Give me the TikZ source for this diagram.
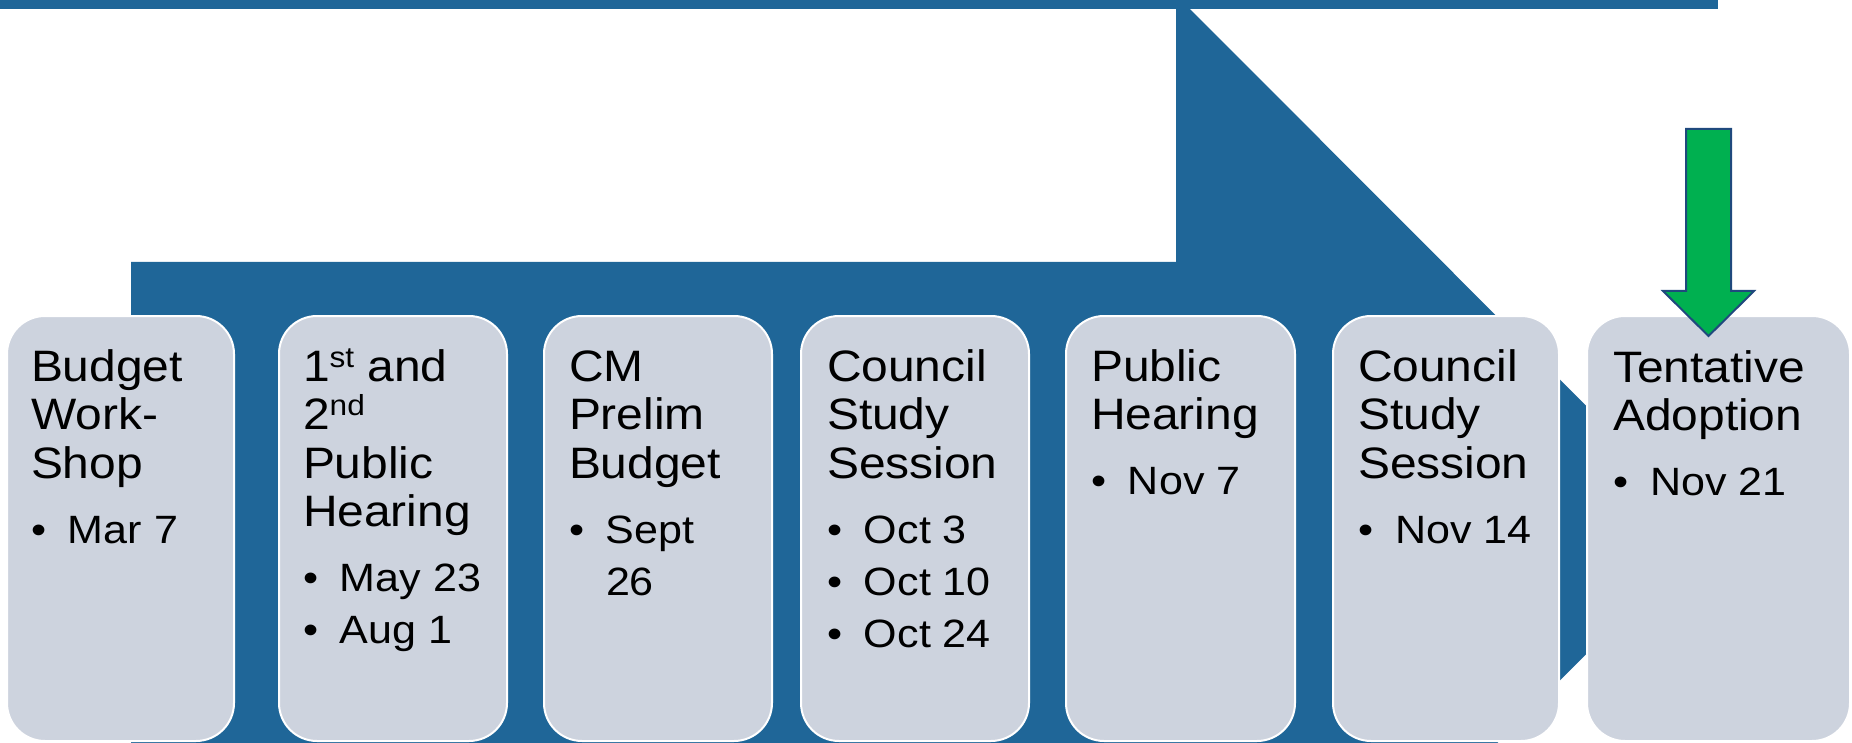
\documentclass[tikz,border=0pt]{standalone}
\usepackage{fontspec}
\setmainfont{Liberation Sans}[FakeStretch=1.09]
\usetikzlibrary{calc}
\definecolor{arrowblue}{RGB}{31,102,152}
\definecolor{cardfill}{RGB}{205,211,222}
\definecolor{okgreen}{RGB}{0,176,80}
\definecolor{navyline}{RGB}{31,73,125}
\newcommand\hdfont{\fontsize{44}{48.5}\selectfont}
\newcommand\btfont{\fontsize{39.5}{52}\selectfont}
\newcommand\hd[1]{\hbox{#1}}
\newcommand\bt[1]{\hbox{\makebox[37pt][l]{\textbullet}#1}}
\newcommand\btfirst[1]{\btfont\baselineskip=65pt\bt{#1}\baselineskip=52pt\relax}
\newcommand\btcont[1]{\hbox{\kern37pt #1}}
\newcommand\sups[1]{\raisebox{14pt}{\fontsize{29}{29}\selectfont #1}}
\newcommand\cardtext[1]{\vtop{\hdfont #1}}
\begin{document}
\begin{tikzpicture}[x=1pt,y=-1pt,
  card/.style={draw=white, line width=2pt, fill=cardfill, rounded corners=38pt,
    anchor=north west, inner sep=0pt, outer sep=0pt, minimum height=425pt},
  cardtxt/.style={anchor=base west, inner sep=0pt, outer sep=0pt, text=black},
  bigarrow/.style={fill=arrowblue},
  pointer/.style={fill=okgreen, draw=navyline, line width=2pt, line join=miter}]
\useasboundingbox (0,0) rectangle (1852,743);
\begin{scope}
\clip (0,0) rectangle (1852,743);
% big blue process arrow
\fill[bigarrow] (131,262) -- (1176,262) -- (1176,-5) -- (1710,530) -- (1176,1065)
  -- (1176,798) -- (131,798) -- cycle;
\fill[bigarrow] (0,0) rectangle (1718,9);
% cards
\node[card, minimum width=227pt] (b1) at (7,316) {};
\node[card, minimum width=228pt] (b2) at (279,316) {};
\node[card, minimum width=228pt] (b3) at (544,316) {};
\node[card, minimum width=228pt] (b4) at (801,316) {};
\node[card, minimum width=229pt] (b5) at (1066,316) {};
\node[card, minimum width=226pt] (b6) at (1333,316) {};
\node[card, minimum width=263pt] (b7) at (1587,316) {};
% green pointer arrow
\draw[pointer] (1686,129) -- (1731,129) -- (1731,291) -- (1754,291) -- (1708.5,336)
  -- (1663,291) -- (1686,291) -- cycle;
% texts
\node[cardtxt] (t1) at ($(b1.north west)+(24,65)$)
  {\cardtext{\hd{Budget}\hd{Work-}\hd{Shop}\btfirst{Mar 7}}};
\node[cardtxt] (t2) at ($(b2.north west)+(24,65)$)
  {\cardtext{\hd{1\sups{st} and}\hd{2\sups{nd}}\hd{Public}\hd{Hearing}\btfirst{May 23}\bt{Aug 1}}};
\node[cardtxt] (t3) at ($(b3.north west)+(25,65)$)
  {\cardtext{\hd{CM}\hd{Prelim}\hd{Budget}\btfirst{Sept}\btcont{26}}};
\node[cardtxt] (t4) at ($(b4.north west)+(26,65)$)
  {\cardtext{\hd{Council}\hd{Study}\hd{Session}\btfirst{Oct 3}\bt{Oct 10}\bt{Oct 24}}};
\node[cardtxt] (t5) at ($(b5.north west)+(25,65)$)
  {\cardtext{\hd{Public}\hd{Hearing}\btfirst{Nov 7}}};
\node[cardtxt] (t6) at ($(b6.north west)+(25,65)$)
  {\cardtext{\hd{Council}\hd{Study}\hd{Session}\btfirst{Nov 14}}};
\node[cardtxt] (t7) at ($(b7.north west)+(26,66)$)
  {\cardtext{\hd{Tentative}\hd{Adoption}\btfirst{Nov 21}}};
\end{scope}
\end{tikzpicture}
\end{document}
